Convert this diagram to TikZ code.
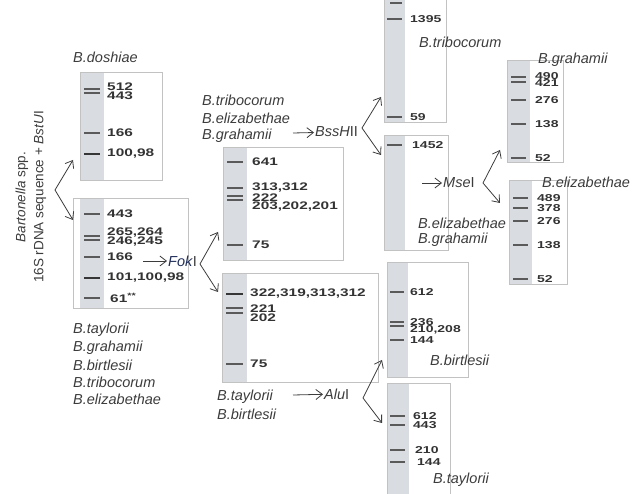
\documentclass[tikz,border=0pt]{standalone}
\usepackage{fontspec}
\setmainfont{Liberation Sans}
\newfontfamily\bandfont[FakeStretch=1.4]{Liberation Sans}
\usetikzlibrary{arrows.meta}
\definecolor{lane}{HTML}{D9DCE1}
\definecolor{edge}{HTML}{C2C2C2}
\definecolor{ink}{HTML}{3C3C3C}
\definecolor{num}{HTML}{333333}
\definecolor{bandc}{HTML}{5A5A5A}
\definecolor{fokc}{HTML}{22305A}

\begin{document}
\begin{tikzpicture}[x=1pt, y=-1pt,
        sp/.style={anchor=west, inner sep=1pt, text=ink, font=\fontsize{14.5}{17}\selectfont\itshape},
        bl/.style={anchor=west, inner sep=0pt, text=num, font=\bandfont\bfseries\fontsize{11}{12}\selectfont},
        bs/.style={anchor=west, inner sep=0pt, text=num, font=\bandfont\bfseries\fontsize{10}{11}\selectfont},
        en/.style={anchor=west, inner sep=1pt, text=ink, font=\fontsize{14.5}{17}\selectfont},
        band/.style={bandc, line width=1.2pt},
        heavy/.style={bandc!60!black, line width=2.2pt},
        arr/.style={ink, line width=0.8pt, >={Straight Barb[length=6.5pt, width=10pt]}}]

                    \useasboundingbox (0,0) rectangle (643,494);

                    \coordinate (sv) at (55,190);
                    \coordinate (su) at (73,160);
                    \coordinate (sd) at (73,220);
                    \coordinate (fa) at (143,261);
                    \coordinate (fv) at (200,264);
                    \coordinate (fu) at (218,232);
                    \coordinate (fd) at (218,292);
                    \coordinate (ba) at (293,133);
                    \coordinate (bv) at (362,128);
                    \coordinate (bu) at (381,97);
                    \coordinate (bd) at (381,155);
                    \coordinate (aa) at (293,395);
                    \coordinate (av) at (363,398);
                    \coordinate (au) at (382,360);
                    \coordinate (ad) at (382,423);
                    \coordinate (ma) at (422,183);
                    \coordinate (mv) at (483,183);
                    \coordinate (mu) at (500,150);
                    \coordinate (md) at (500,203);

                    \fill[lane] (80,72) rectangle (104,180);
                    \draw[edge] (80,72) rectangle (162,180);
                    \fill[lane] (80,198) rectangle (104,308);
                    \draw[edge] (73,198) rectangle (188,308);
                    \fill[lane] (223,147) rectangle (247,260);
                    \draw[edge] (223,147) rectangle (343,260);
                    \fill[lane] (222,273) rectangle (247,382);
                    \draw[edge] (222,273) rectangle (378,382);
                    \fill[lane] (384,-1) rectangle (405,122);
                    \draw[edge] (384,-1) rectangle (446,122);
                    \fill[lane] (384,135) rectangle (405,250);
                    \draw[edge] (384,135) rectangle (448,250);
                    \fill[lane] (387,262) rectangle (408,377);
                    \draw[edge] (387,262) rectangle (468,377);
                    \fill[lane] (387,383) rectangle (409,496);
                    \draw[edge] (387,383) rectangle (450,496);
                    \fill[lane] (507,60) rectangle (530,162);
                    \draw[edge] (507,60) rectangle (563,162);
                    \fill[lane] (509,180) rectangle (532,284);
                    \draw[edge] (509,180) rectangle (567,284);

                    \draw[band] (84,89) -- (100,89);
                    \draw[band] (84,93) -- (100,93);
                    \draw[band] (84,133) -- (100,133);
                    \draw[heavy] (84,154) -- (100,154);
                    \draw[band] (84,214) -- (100,214);
                    \draw[band] (84,236) -- (100,236);
                    \draw[band] (84,240) -- (100,240);
                    \draw[band] (84,257) -- (100,257);
                    \draw[heavy] (84,278) -- (100,278);
                    \draw[band] (84,298) -- (100,298);
                    \draw[band] (227,162) -- (243,162);
                    \draw[band] (227,188) -- (243,188);
                    \draw[band] (227,196) -- (243,196);
                    \draw[band] (227,200) -- (243,200);
                    \draw[band] (227,245) -- (243,245);
                    \draw[heavy] (226,294) -- (243,294);
                    \draw[band] (226,308) -- (243,308);
                    \draw[band] (226,313) -- (243,313);
                    \draw[band] (226,364) -- (243,364);
                    \draw[band] (390,3) -- (402,3);
                    \draw[band] (387,19) -- (402,19);
                    \draw[band] (387,117) -- (402,117);
                    \draw[band] (387,145) -- (402,145);
                    \draw[band] (390,292) -- (404,292);
                    \draw[band] (390,322) -- (404,322);
                    \draw[band] (390,326) -- (404,326);
                    \draw[band] (390,340) -- (404,340);
                    \draw[band] (390,416) -- (405,416);
                    \draw[band] (390,425) -- (405,425);
                    \draw[band] (390,450) -- (405,450);
                    \draw[band] (390,462) -- (405,462);
                    \draw[band] (511,77) -- (526,77);
                    \draw[band] (511,82) -- (526,82);
                    \draw[band] (511,100) -- (526,100);
                    \draw[band] (511,124) -- (526,124);
                    \draw[band] (511,158) -- (526,158);
                    \draw[band] (513,198) -- (528,198);
                    \draw[band] (513,208) -- (528,208);
                    \draw[band] (513,221) -- (528,221);
                    \draw[band] (513,245) -- (528,245);
                    \draw[band] (513,279) -- (528,279);

                    \node[bl] (d512) at (107,87) {512};
                    \node[bl] (d443) at (107,96) {443};
                    \node[bl] (d166) at (107,133) {166};
                    \node[bl] (d100) at (107,154) {100,98};
                    \node[bl] (s443) at (107,214) {443};
                    \node[bl] (s265) at (107,233) {265,264};
                    \node[bl] (s246) at (107,242) {246,245};
                    \node[bl] (s166) at (107,257) {166};
                    \node[bl] (s101) at (107,278) {101,100,98};
                    \node[bl] (s61) at (110,298) {61\textsuperscript{**}};
                    \node[bl] (u641) at (252,162) {641};
                    \node[bl] (u313) at (252,188) {313,312};
                    \node[bl] (u222) at (252,198) {222};
                    \node[bl] (u203) at (252,207) {203,202,201};
                    \node[bl] (u75) at (252,245) {75};
                    \node[bl] (l322) at (250,294) {322,319,313,312};
                    \node[bl] (l221) at (250,309) {221};
                    \node[bl] (l202) at (250,318) {202};
                    \node[bl] (l75) at (250,364) {75};
                    \node[bs] (t1395) at (410,19) {1395};
                    \node[bs] (t59) at (410,117) {59};
                    \node[bs] (h1452) at (412,145) {1452};
                    \node[bs] (r612) at (410,292) {612};
                    \node[bs] (r236) at (410,322) {236};
                    \node[bs] (r210) at (410,330) {210,208};
                    \node[bs] (r144) at (410,340) {144};
                    \node[bs] (y612) at (413,416) {612};
                    \node[bs] (y443) at (413,425) {443};
                    \node[bs] (y210) at (415,450) {210};
                    \node[bs] (y144) at (417,462) {144};
                    \node[bs] (g490) at (535,76) {490};
                    \node[bs] (g421) at (535,83) {421};
                    \node[bs] (g276) at (535,100) {276};
                    \node[bs] (g138) at (535,124) {138};
                    \node[bs] (g52) at (535,158) {52};
                    \node[bs] (e489) at (537,198) {489};
                    \node[bs] (e378) at (537,208) {378};
                    \node[bs] (e276) at (537,221) {276};
                    \node[bs] (e138) at (537,245) {138};
                    \node[bs] (e52) at (537,279) {52};

                    \node[rotate=90, align=center, text=ink, font=\fontsize{13.5}{18}\selectfont] (src) at (31,197) {\textit{Bartonella} spp.\\16S rDNA sequence + \textit{BstU}I};
                    \node[sp] (dosh) at (72,57) {B.doshiae};
                    \node[sp] (q1) at (72,330) {B.taylorii};
                    \node[sp] (q2) at (72,348) {B.grahamii};
                    \node[sp] (q3) at (72,365) {B.birtlesii};
                    \node[sp] (q4) at (72,382) {B.tribocorum};
                    \node[sp] (q5) at (72,399) {B.elizabethae};
                    \node[sp] (k1) at (201,100) {B.tribocorum};
                    \node[sp] (k2) at (201,118) {B.elizabethae};
                    \node[sp] (k3) at (201,136) {B.grahamii};
                    \node[sp] (w1) at (216,397) {B.taylorii};
                    \node[sp] (w2) at (216,414) {B.birtlesii};
                    \node[sp] (trib) at (418,42) {B.tribocorum};
                    \node[sp] (n1) at (417,223) {B.elizabethae};
                    \node[sp] (n2) at (417,240) {B.grahamii};
                    \node[sp] (birt) at (429,360) {B.birtlesii};
                    \node[sp] (tayl) at (432,480) {B.taylorii};
                    \node[sp] (grah) at (537,60) {B.grahamii};
                    \node[sp] (eliz) at (541,182) {B.elizabethae};

                    \node[en] (fok) at (167,261) {\textcolor{fokc}{\textit{Fok}}I};
                    \node[en] (bss) at (314,132) {\textit{BssH}II};
                    \node[en] (alu) at (323,394) {\textit{Alu}I};
                    \node[en] (mse) at (442,183) {\textit{Mse}I};

                    \draw[arr, <->] (su) -- (sv) -- (sd);
                    \draw[arr, <->] (fu) -- (fv) -- (fd);
                    \draw[arr, <->] (bu) -- (bv) -- (bd);
                    \draw[arr, <->] (au) -- (av) -- (ad);
                    \draw[arr, <->] (mu) -- (mv) -- (md);
                    \draw[arr, ->] (fa) -- (fok);
                    \draw[arr, ->] (ba) -- (bss);
                    \draw[arr, ->] (aa) -- (alu);
                    \draw[arr, ->] (ma) -- (mse);
                \end{tikzpicture}
\end{document}
